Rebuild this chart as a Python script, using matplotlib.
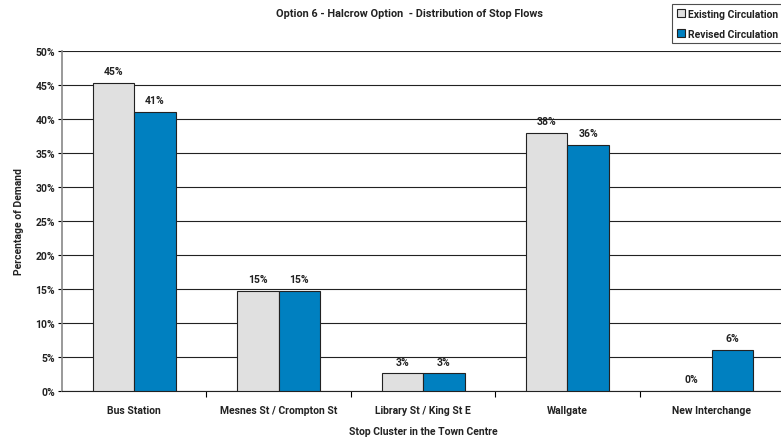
import numpy as np
import matplotlib
matplotlib.use("Agg")
import matplotlib.pyplot as plt

plt.rcParams['font.family'] = ['Roboto', 'DejaVu Sans']

categories = ["Bus Station", "Mesnes St / Crompton St", "Library St / King St E", "Wallgate", "New Interchange"]
existing = [45.3, 14.7, 2.6, 37.9, 0.0]
revised = [41.0, 14.7, 2.6, 36.2, 6.0]
existing_labels = ["45%", "15%", "3%", "38%", "0%"]
revised_labels = ["41%", "15%", "3%", "36%", "6%"]

txt = '#222222'
fs = 7.5

fig = plt.figure(figsize=(7.81, 4.39), dpi=100)
ax = fig.add_axes([62/781, 1-392/439, 1-62/781+0.004, (392-52)/439])

x = np.arange(len(categories))
w = 0.287
b1 = ax.bar(x - w/2, existing, w, color='#e0e0e0', edgecolor='#222222', linewidth=0.8,
            label='Existing Circulation', zorder=3)
b2 = ax.bar(x + w/2, revised, w, color='#0080c0', edgecolor='#222222', linewidth=0.8,
            label='Revised Circulation', zorder=3)

for i in range(len(categories)):
    ax.text(x[i] - w/2, existing[i] + 1.0, existing_labels[i], ha='center', va='bottom',
            fontsize=fs, fontweight='bold', color=txt)
    ax.text(x[i] + w/2, revised[i] + 1.0, revised_labels[i], ha='center', va='bottom',
            fontsize=fs, fontweight='bold', color=txt)

ax.set_xlim(-0.5, len(categories) - 0.5)
ax.set_ylim(0, 50)
ax.set_yticks(np.arange(0, 51, 5))
ax.set_yticklabels([f"{v}%" for v in range(0, 51, 5)], fontsize=fs, fontweight='bold', color=txt)
ax.yaxis.grid(True, color='#222222', linewidth=0.8, zorder=0)
ax.tick_params(axis='y', length=3, width=0.8, pad=2)

ax.set_xticks(x)
ax.set_xticklabels(categories, fontsize=fs, fontweight='bold', color=txt)
ax.tick_params(axis='x', length=0, pad=10)
ax.set_xticks(np.arange(0.5, len(categories) - 0.5, 1), minor=True)
ax.tick_params(axis='x', which='minor', length=4, width=0.8)

for s in ['top', 'right']:
    ax.spines[s].set_visible(False)
ax.spines['left'].set_color('#888888')
ax.spines['left'].set_linewidth(1.2)
ax.spines['bottom'].set_color('#222222')
ax.spines['bottom'].set_linewidth(0.8)

ax.set_ylabel('Percentage of Demand', fontsize=fs, fontweight='bold', color=txt, labelpad=8)
ax.set_xlabel('Stop Cluster in the Town Centre', fontsize=fs, fontweight='bold', color=txt, labelpad=8)

fig.text(410/781, 1-14/439, 'Option 6 - Halcrow Option  - Distribution of Stop Flows',
         ha='center', va='center', fontsize=7.8, fontweight='bold', color=txt)

leg = fig.legend(handles=[b1, b2], loc='upper left', bbox_to_anchor=(672/781, 1-5/439),
                 prop={'weight': 'bold', 'size': 7.5}, frameon=True, fancybox=False,
                 edgecolor='#222222', handlelength=0.8, handleheight=0.8, handletextpad=0.3,
                 borderpad=0.45, labelspacing=0.95, borderaxespad=0)
leg.get_frame().set_linewidth(0.8)
for t in leg.get_texts():
    t.set_color(txt)

fig.savefig('out.png', dpi=100)
